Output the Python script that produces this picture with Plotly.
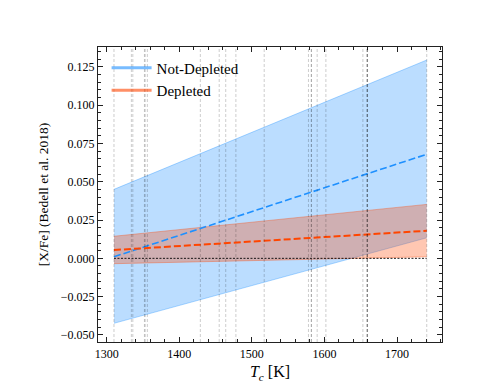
import plotly.graph_objects as go

# condensation temperatures spanned by the fits
tc_x = [1310, 1741]

# Not-Depleted fit and band
notdep_mid = [0.0010, 0.0679]
notdep_hi = [0.0450, 0.1294]
notdep_lo = [-0.0424, 0.0134]

# Depleted fit and band
dep_mid = [0.0054, 0.0180]
dep_hi = [0.0144, 0.0352]
dep_lo = [-0.0035, 0.0010]

# element condensation temperatures (vertical guides)
elem_tc = [1310, 1334, 1336, 1352, 1353, 1356, 1429, 1455, 1464, 1478, 1517,
           1578, 1582, 1582, 1590, 1602, 1653, 1659, 1659, 1659, 1659, 1741]

BLUE = '30,144,255'
RED = '255,69,0'
FONT = 'Liberation Serif'

fig = go.Figure()

for tc in elem_tc:
    fig.add_vline(x=tc, line=dict(color='rgba(0,0,0,0.2)', width=1, dash='3px,2px'))

def band(lo, hi, rgb):
    fig.add_trace(go.Scatter(x=tc_x, y=lo, mode='lines', showlegend=False,
                             line=dict(color='rgba(%s,0.35)' % rgb, width=1)))
    fig.add_trace(go.Scatter(x=tc_x, y=hi, mode='lines', showlegend=False,
                             fill='tonexty', fillcolor='rgba(%s,0.3)' % rgb,
                             line=dict(color='rgba(%s,0.35)' % rgb, width=1)))

band(notdep_lo, notdep_hi, BLUE)
band(dep_lo, dep_hi, RED)

fig.add_trace(go.Scatter(x=tc_x, y=notdep_mid, mode='lines', showlegend=False,
                         line=dict(color='rgb(%s)' % BLUE, width=1.6, dash='7px,3px')))
fig.add_trace(go.Scatter(x=tc_x, y=dep_mid, mode='lines', showlegend=False,
                         line=dict(color='rgb(%s)' % RED, width=2, dash='7px,3px')))
fig.add_trace(go.Scatter(x=tc_x, y=[0, 0], mode='lines', showlegend=False,
                         line=dict(color='rgba(0,0,0,0.9)', width=1, dash='2px,1.5px')))

# legend entries
fig.add_trace(go.Scatter(x=[None], y=[None], mode='lines', name='Not-Depleted',
                         line=dict(color='rgba(%s,0.6)' % BLUE, width=3)))
fig.add_trace(go.Scatter(x=[None], y=[None], mode='lines', name='Depleted',
                         line=dict(color='rgba(%s,0.6)' % RED, width=3)))

axis = dict(showgrid=False, zeroline=False, showline=True, linecolor='#222',
            linewidth=1.2, mirror='allticks', ticks='inside', ticklen=5,
            tickcolor='#222', tickfont=dict(family=FONT, size=12, color='black'))

fig.update_xaxes(axis, range=[1288, 1762], dtick=100, tick0=1300,
                 minor=dict(ticks='inside', ticklen=3, dtick=20, tickcolor='#222'),
                 title=dict(text='<i>T</i><sub><i>c</i></sub> [K]',
                            font=dict(family=FONT, size=16, color='black'), standoff=6))
fig.update_yaxes(axis, range=[-0.0546, 0.1379], dtick=0.025, tick0=0,
                 tickformat='.3f',
                 minor=dict(ticks='inside', ticklen=3, dtick=0.005, tickcolor='#222'),
                 title=dict(text='[X/Fe] (Bedell et al. 2018)',
                            font=dict(family=FONT, size=13.5, color='black'), standoff=8))

# page body adds ~8px offset, so the figure is a bit smaller than the window
fig.update_layout(
    width=483, height=384,
    margin=dict(l=90, r=49, t=39, b=50),
    paper_bgcolor='white', plot_bgcolor='white',
    font=dict(family=FONT, color='black'),
    legend=dict(x=0.025, y=0.985, xanchor='left', yanchor='top',
                traceorder='normal', itemwidth=40,
                bgcolor='rgba(0,0,0,0)', font=dict(family=FONT, size=15),
                tracegroupgap=4),
)

fig.write_html("out.html")
